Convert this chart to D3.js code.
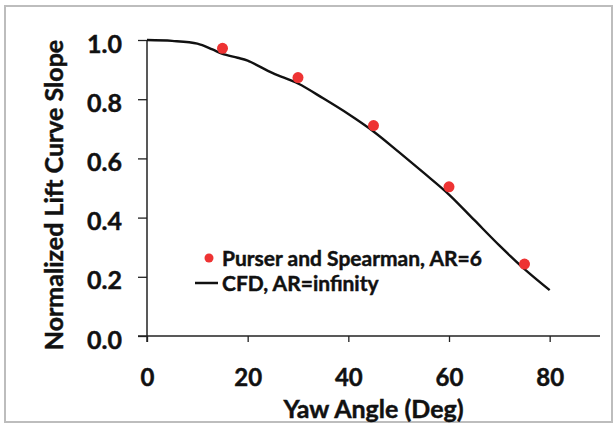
<!DOCTYPE html>
<html>
<head>
<meta charset="utf-8">
<script src="https://cdn.jsdelivr.net/npm/d3@7"></script>
<style>
  html, body { margin: 0; padding: 0; background: #fff; }
  svg { display: block; }
  text { font-family: Lato, "Open Sans", sans-serif; font-weight: bold; fill: #111; stroke: #111; stroke-width: 0.45px; }
</style>
</head>
<body>
<svg id="chart" width="616" height="430"></svg>
<script>
// Experimental data (Purser and Spearman, AR=6)
const expYaw   = [15, 30, 45, 60, 75];
const expSlope = [0.972, 0.873, 0.711, 0.504, 0.243];

// CFD curve (AR=infinity)
const cfdYaw   = [0, 5, 10, 13, 15, 18, 20, 25, 30, 35, 40, 45, 50, 55, 60, 65, 70, 75, 80];
const cfdSlope = [1.0, 0.997, 0.988, 0.968, 0.953, 0.940, 0.930, 0.888, 0.853, 0.803, 0.750, 0.691, 0.622, 0.551, 0.478, 0.392, 0.306, 0.226, 0.155];

const xTicks = [0, 20, 40, 60, 80];
const yTicks = [0.0, 0.2, 0.4, 0.6, 0.8, 1.0];

const legendLabels = ["Purser and Spearman, AR=6", "CFD, AR=infinity"];
const xTitle = "Yaw Angle (Deg)";
const yTitle = "Normalized Lift Curve Slope";

const svg = d3.select("#chart");

// outer frame
svg.append("rect")
  .attr("x", 5).attr("y", 6).attr("width", 607).attr("height", 416)
  .attr("fill", "#fff").attr("stroke", "#bdbdbd").attr("stroke-width", 2);

const x = d3.scaleLinear().domain([0, 90]).range([147, 600]);
const y = d3.scaleLinear().domain([0, 1]).range([336, 40]);

// y axis
const yAxis = svg.append("g").attr("transform", `translate(${x(0)},0)`)
  .call(d3.axisLeft(y).tickValues(yTicks).tickFormat(d3.format(".1f")).tickSize(9).tickPadding(16));
// x axis
const xAxis = svg.append("g").attr("transform", `translate(0,${y(0)})`)
  .call(d3.axisBottom(x).tickValues(xTicks).tickFormat(d3.format("d")).tickSize(6).tickPadding(27));

[yAxis, xAxis].forEach(g => {
  g.select(".domain").remove();
  g.selectAll(".tick line").attr("stroke", "#222").attr("stroke-width", 1.3);
  g.selectAll(".tick text").attr("fill", "#111");
});
yAxis.selectAll(".tick text").style("font-size", "25px").attr("dy", "0.48em");
xAxis.selectAll(".tick text").style("font-size", "24px");

// axis lines (Excel style crossing)
svg.append("line")
  .attr("x1", x(0) - 9).attr("x2", x(90))
  .attr("y1", y(0)).attr("y2", y(0))
  .attr("stroke", "#222").attr("stroke-width", 1.5);
svg.append("line")
  .attr("x1", x(0)).attr("x2", x(0))
  .attr("y1", y(1)).attr("y2", y(0) + 6)
  .attr("stroke", "#222").attr("stroke-width", 1.5);

// CFD curve
const cfd = cfdYaw.map((d, i) => [d, cfdSlope[i]]);
svg.append("path")
  .datum(cfd)
  .attr("fill", "none")
  .attr("stroke", "#111")
  .attr("stroke-width", 2.4)
  .attr("d", d3.line().x(d => x(d[0])).y(d => y(d[1])).curve(d3.curveCatmullRom.alpha(0.5)));

// experimental dots
svg.selectAll("circle.exp")
  .data(expYaw.map((d, i) => [d, expSlope[i]]))
  .join("circle")
  .attr("class", "exp")
  .attr("cx", d => x(d[0]))
  .attr("cy", d => y(d[1]))
  .attr("r", 5.5)
  .attr("fill", "#ee3333");

// legend
const lg = svg.append("g");
lg.append("circle").attr("cx", 209).attr("cy", 258).attr("r", 4.5).attr("fill", "#ee3333");
lg.append("text").attr("x", 222).attr("y", 266).style("font-size", "21px").text(legendLabels[0]);
lg.append("line").attr("x1", 195).attr("x2", 218).attr("y1", 283).attr("y2", 283)
  .attr("stroke", "#111").attr("stroke-width", 2.5);
lg.append("text").attr("x", 222).attr("y", 291).style("font-size", "21px").text(legendLabels[1]);

// titles
svg.append("text")
  .attr("x", x(45)).attr("y", 418)
  .attr("text-anchor", "middle")
  .style("font-size", "25px")
  .text(xTitle);

svg.append("text")
  .attr("transform", "translate(63,195) rotate(-90)")
  .attr("text-anchor", "middle")
  .style("font-size", "25px")
  .text(yTitle);
</script>
</body>
</html>
